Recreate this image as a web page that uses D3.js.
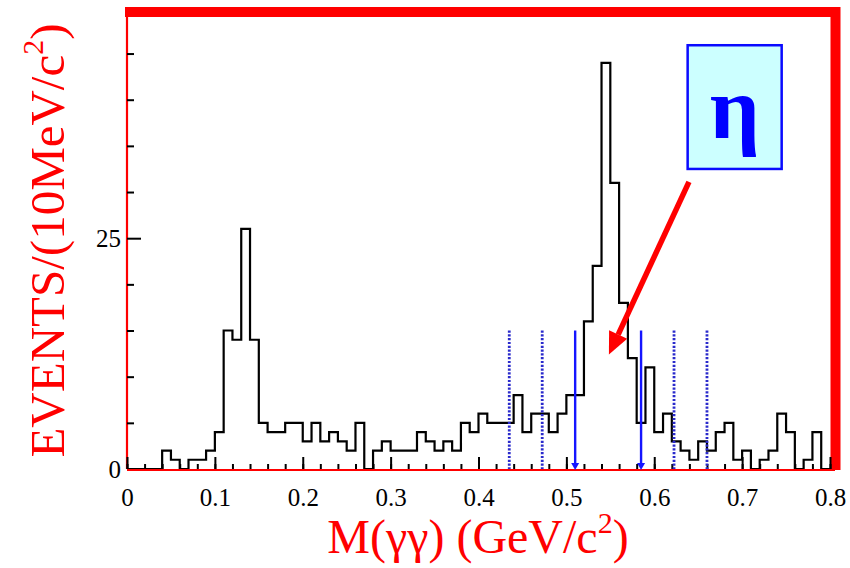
<!DOCTYPE html>
<html>
<head>
<meta charset="utf-8">
<script src="https://cdn.jsdelivr.net/npm/d3@7"></script>
<style>
  body { margin: 0; background: #fff; }
  svg { display: block; }
  text { font-family: "Liberation Serif", "Times New Roman", serif; }
</style>
</head>
<body>
<div id="chart"></div>
<script>
// M(gamma gamma) spectrum, 10 MeV/c^2 bins from 0 to 0.8 GeV/c^2
const binWidth = 0.01;
const counts = [
  0, 0, 0, 0, 2, 1, 0, 1, 1, 2,
  4, 15, 14, 26, 14, 5, 4, 4, 5, 5,
  3, 5, 3, 4, 3, 2, 5, 0, 2, 3,
  2, 2, 2, 4, 3, 2, 3, 2, 5, 4,
  6, 5, 5, 5, 8, 4, 6, 6, 4, 6,
  8, 8, 16, 22, 44, 31, 18, 12, 5, 11,
  4, 6, 3, 2, 1, 3, 2, 4, 5, 1,
  2, 0, 1, 2, 6, 4, 0, 1, 4, 0
];

// eta signal window and the two sideband windows
const signalCuts = [0.51, 0.585];
const sidebandCuts = [0.435, 0.4725, 0.6225, 0.66];
const cutHeight = 15;

const xMajorTicks = [0, 0.1, 0.2, 0.3, 0.4, 0.5, 0.6, 0.7, 0.8];
const xTickLabels = ["0", "0.1", "0.2", "0.3", "0.4", "0.5", "0.6", "0.7", "0.8"];
const xMinorTicks = d3.range(0, 41).map(i => i * 0.02);
const yMajorTicks = [0, 25];
const yMinorTicks = [5, 10, 15, 20, 30, 35, 40, 45];

// label box and arrow, in data units
const etaBox = { x0: 0.638, x1: 0.745, y0: 32.5, y1: 45.9 };
const etaArrow = { x0: 0.6395, y0: 31.1, x1: 0.5484, y1: 12.4 };

const W = 850, H = 568;
const red = "#ff0000";

const x = d3.scaleLinear().domain([0, 0.8]).range([127, 830]);
const y = d3.scaleLinear().domain([0, 49.5]).range([469, 12]);

const svg = d3.select("#chart").append("svg")
  .attr("width", W)
  .attr("height", H);

// frame: thin left/bottom, heavy top/right
svg.append("line")
  .attr("x1", x(0)).attr("x2", x(0))
  .attr("y1", y(49.5)).attr("y2", y(0))
  .attr("stroke", red).attr("stroke-width", 2.2);

svg.append("path")
  .attr("d", `M${x(0) - 2},${y(49.5)}H${x(0.8) + 5.5}V${y(0) + 1}`)
  .attr("fill", "none")
  .attr("stroke", red)
  .attr("stroke-width", 10);

// ticks point into the frame
const xMinor = d3.axisBottom(x).tickValues(xMinorTicks).tickSize(-5).tickFormat("");
const xMajor = d3.axisBottom(x).tickValues(xMajorTicks).tickSize(-12)
  .tickPadding(19).tickFormat((d, i) => xTickLabels[i]);
const yMinor = d3.axisLeft(y).tickValues(yMinorTicks).tickSize(-7).tickFormat("");
const yMajor = d3.axisLeft(y).tickValues(yMajorTicks).tickSize(-14)
  .tickPadding(6).tickFormat(d3.format("d"));

function styleAxis(g) {
  g.select(".domain").remove();
  g.selectAll(".tick line").attr("stroke", "#000").attr("stroke-width", 2);
  g.selectAll(".tick text")
    .attr("fill", "#000")
    .attr("font-size", 25)
    .attr("font-family", "Liberation Serif, Times New Roman, serif");
}

svg.append("g").attr("transform", `translate(0,${y(0)})`).call(xMinor).call(styleAxis);
svg.append("g").attr("transform", `translate(0,${y(0)})`).call(xMajor).call(styleAxis);
svg.append("g").attr("transform", `translate(${x(0)},0)`).call(yMinor).call(styleAxis);
svg.append("g").attr("transform", `translate(${x(0)},0)`).call(yMajor).call(styleAxis);

// histogram outline
const steps = counts.map((c, i) => [i * binWidth, c]);
steps.push([counts.length * binWidth, counts[counts.length - 1]]);

const stepLine = d3.line()
  .x(d => x(d[0]))
  .y(d => y(d[1]))
  .curve(d3.curveStepAfter);

svg.append("path")
  .datum(steps)
  .attr("d", stepLine)
  .attr("fill", "none")
  .attr("stroke", "#000")
  .attr("stroke-width", 2.2);

// bottom axis line
svg.append("line")
  .attr("x1", x(0)).attr("x2", x(0.8) + 5)
  .attr("y1", y(0) + 1).attr("y2", y(0) + 1)
  .attr("stroke", red).attr("stroke-width", 2.2);

// sideband cuts (dotted) and signal cuts (solid)
svg.selectAll(".side")
  .data(sidebandCuts)
  .enter().append("line")
  .attr("class", "side")
  .attr("x1", d => x(d)).attr("x2", d => x(d))
  .attr("y1", y(cutHeight)).attr("y2", y(0))
  .attr("stroke", "#2a2acc")
  .attr("stroke-width", 2.8)
  .attr("stroke-dasharray", "2.2,1.6");

svg.selectAll(".sig")
  .data(signalCuts)
  .enter().append("line")
  .attr("class", "sig")
  .attr("x1", d => x(d)).attr("x2", d => x(d))
  .attr("y1", y(cutHeight)).attr("y2", y(0) - 4)
  .attr("stroke", "#1515ff")
  .attr("stroke-width", 2.4);

svg.selectAll(".sighead")
  .data(signalCuts)
  .enter().append("path")
  .attr("class", "sighead")
  .attr("d", d => `M${x(d) - 4},${y(0) - 6}L${x(d) + 4},${y(0) - 6}L${x(d)},${y(0) + 1}Z`)
  .attr("fill", "#1515ff");

// eta label box
svg.append("rect")
  .attr("x", x(etaBox.x0))
  .attr("y", y(etaBox.y1))
  .attr("width", x(etaBox.x1) - x(etaBox.x0))
  .attr("height", y(etaBox.y0) - y(etaBox.y1))
  .attr("fill", "#ccffff")
  .attr("stroke", "#0a0aff")
  .attr("stroke-width", 2.5);

svg.append("text")
  .attr("x", (x(etaBox.x0) + x(etaBox.x1)) / 2)
  .attr("y", 138)
  .attr("text-anchor", "middle")
  .attr("font-size", 88)
  .attr("font-weight", "bold")
  .attr("font-family", "DejaVu Serif, Liberation Serif, serif")
  .attr("fill", "#0000ff")
  .text("η");

// arrow from the box to the peak
const ax0 = x(etaArrow.x0), ay0 = y(etaArrow.y0);
const ax1 = x(etaArrow.x1), ay1 = y(etaArrow.y1);
const ang = Math.atan2(ay1 - ay0, ax1 - ax0);
const headLen = 22, headHalf = 10;
const bx = ax1 - headLen * Math.cos(ang), by = ay1 - headLen * Math.sin(ang);

svg.append("line")
  .attr("x1", ax0).attr("y1", ay0)
  .attr("x2", bx).attr("y2", by)
  .attr("stroke", red)
  .attr("stroke-width", 5.5);

svg.append("path")
  .attr("d", `M${ax1},${ay1}` +
    `L${bx + headHalf * Math.sin(ang)},${by - headHalf * Math.cos(ang)}` +
    `L${bx - headHalf * Math.sin(ang)},${by + headHalf * Math.cos(ang)}Z`)
  .attr("fill", red);

// axis titles
const yTitle = svg.append("text")
  .attr("transform", `translate(64,${(y(0) + y(49.5)) / 2}) rotate(-90)`)
  .attr("text-anchor", "middle")
  .attr("font-size", 49)
  .attr("fill", red);
yTitle.append("tspan").text("EVENTS/(10MeV/c");
yTitle.append("tspan").attr("font-size", 30).attr("dy", -21).text("2");
yTitle.append("tspan").attr("dy", 21).text(")");

const xTitle = svg.append("text")
  .attr("x", 478)
  .attr("y", 553)
  .attr("text-anchor", "middle")
  .attr("font-size", 48)
  .attr("fill", red);
xTitle.append("tspan").text("M(γγ) (GeV/c");
xTitle.append("tspan").attr("font-size", 30).attr("dy", -20).text("2");
xTitle.append("tspan").attr("dy", 20).text(")");
</script>
</body>
</html>
